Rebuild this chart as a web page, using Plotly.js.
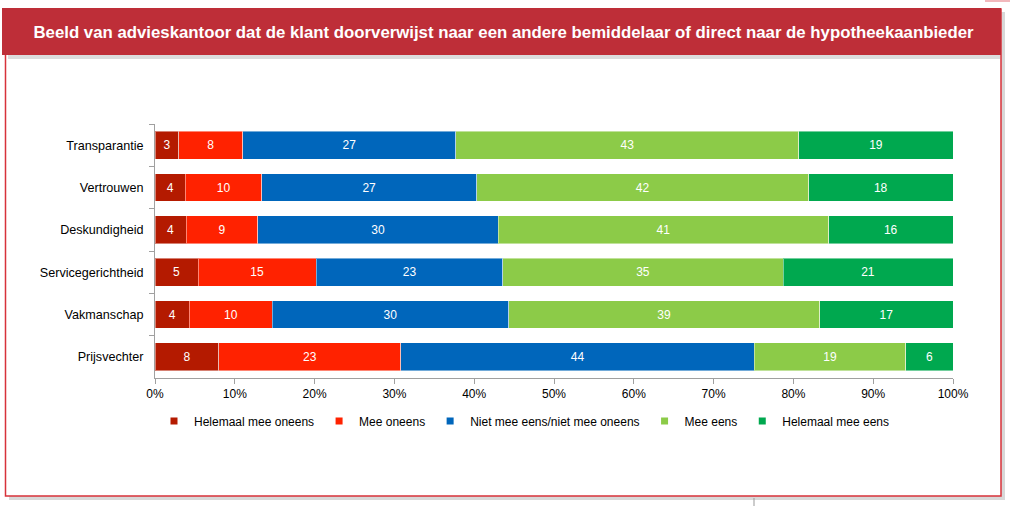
<!DOCTYPE html>
<html>
<head>
<meta charset="utf-8">
<script src="https://cdn.plot.ly/plotly-3.0.1.min.js"></script>
<style>
html,body{margin:0;padding:0;background:#fff;}
#chart{width:1010px;height:506px;}
</style>
</head>
<body>
<div id="chart"></div>
<script>
// Categories (top to bottom)
var categories = ['Transparantie', 'Vertrouwen', 'Deskundigheid', 'Servicegerichtheid', 'Vakmanschap', 'Prijsvechter'];
// Series (percent shares)
var seriesNames = ['Helemaal mee oneens', 'Mee oneens', 'Niet mee eens/niet mee oneens', 'Mee eens', 'Helemaal mee eens'];
var helemaalMeeOneens = [3.0, 3.8, 3.9, 5.4, 4.3, 8.0];
var meeOneens         = [8.0, 9.6, 9.0, 14.8, 10.4, 22.8];
var neutraal          = [26.7, 26.9, 30.1, 23.4, 29.6, 44.3];
var meeEens           = [43.0, 41.6, 41.4, 35.1, 39.0, 19.0];
var helemaalMeeEens   = [19.3, 18.1, 15.6, 21.3, 16.7, 5.9];
var xTickVals = [0, 10, 20, 30, 40, 50, 60, 70, 80, 90, 100];
var xTickText = ['0%', '10%', '20%', '30%', '40%', '50%', '60%', '70%', '80%', '90%', '100%'];
var titleText = 'Beeld van advieskantoor dat de klant doorverwijst naar een andere bemiddelaar of direct naar de hypotheekaanbieder';

var colors = ['#B41A00', '#FF2200', '#0066BB', '#8CCB48', '#00A84F'];
var seriesValues = [helemaalMeeOneens, meeOneens, neutraal, meeEens, helemaalMeeEens];

var W = 1010, H = 506;
var L = 155, R = 953, T = 124, B = 378;
function px(x){ return (x - L) / (R - L); }
function py(y){ return (B - y) / (B - T); }

var traces = [];
seriesValues.forEach(function(vals, i){
  traces.push({
    type: 'bar',
    orientation: 'h',
    y: categories,
    x: vals,
    name: seriesNames[i],
    showlegend: false,
    marker: {color: colors[i], line: {color: 'rgba(255,255,255,0.45)', width: 1}},
    texttemplate: '%{x:.0f}',
    textposition: 'inside',
    insidetextanchor: 'middle',
    textangle: 0,
    constraintext: 'none',
    textfont: {color: '#ffffff', size: 12, family: 'Liberation Sans, Arial, sans-serif'},
    hoverinfo: 'skip'
  });
});
// legend entries with small square keys
seriesNames.forEach(function(n, i){
  traces.push({
    type: 'scatter',
    mode: 'markers',
    x: [null], y: [null],
    name: n,
    marker: {symbol: 'square', size: 7, color: colors[i]},
    showlegend: true,
    hoverinfo: 'skip'
  });
});

var shapes = [
  // outer box shadow
  {type:'rect', xref:'paper', yref:'paper', x0:px(9), x1:px(1005), y0:py(12), y1:py(500), fillcolor:'#d8d8d8', line:{width:0}, layer:'below'},
  // outer box
  {type:'rect', xref:'paper', yref:'paper', x0:px(5.5), x1:px(1001), y0:py(9), y1:py(496), fillcolor:'#ffffff', line:{color:'#D7323A', width:1.5}, layer:'below'},
  // title bar shadow
  {type:'rect', xref:'paper', yref:'paper', x0:px(8), x1:px(1000), y0:py(54), y1:py(59), fillcolor:'#dcdcdc', line:{width:0}, layer:'below'},
  // title bar
  {type:'rect', xref:'paper', yref:'paper', x0:px(2), x1:px(1001), y0:py(8), y1:py(55), fillcolor:'#BE2E38', line:{width:0}, layer:'below'},
  // small artefacts
  {type:'line', xref:'paper', yref:'paper', x0:px(754), x1:px(754), y0:py(498), y1:py(506), line:{color:'#999999', width:1}},
  {type:'line', xref:'paper', yref:'paper', x0:px(985), x1:px(1010), y0:py(1), y1:py(1), line:{color:'#f2b8bc', width:2}}
];

var layout = {
  width: W, height: H,
  margin: {l: L, r: W - R, t: T, b: H - B, pad: 0},
  paper_bgcolor: 'rgba(0,0,0,0)',
  plot_bgcolor: 'rgba(0,0,0,0)',
  barmode: 'stack',
  bargap: 0.34,
  font: {family: 'Liberation Sans, Arial, sans-serif', size: 12, color: '#000000'},
  title: {
    text: titleText,
    font: {family: 'Liberation Sans, Arial, sans-serif', size: 16.8, color: '#ffffff', weight: 'bold'},
    x: px(503.5), xref: 'paper', xanchor: 'center',
    y: 1 - 32.5 / H, yref: 'container', yanchor: 'middle'
  },
  xaxis: {
    range: [0, 100],
    tickvals: xTickVals,
    ticktext: xTickText,
    showgrid: false,
    zeroline: false,
    showline: true,
    linecolor: '#a0a0a0',
    linewidth: 1,
    ticks: 'outside',
    ticklen: 5,
    tickcolor: '#a0a0a0',
    tickfont: {size: 12, color: '#000000'},
    fixedrange: true
  },
  yaxis: {
    type: 'category',
    categoryorder: 'array',
    categoryarray: categories,
    autorange: 'reversed',
    showgrid: false,
    zeroline: false,
    showline: true,
    linecolor: '#a0a0a0',
    linewidth: 1,
    ticks: 'outside',
    tickson: 'boundaries',
    ticklen: 5,
    tickcolor: '#a0a0a0',
    ticklabelstandoff: 8,
    tickfont: {size: 12.6, color: '#000000'},
    fixedrange: true
  },
  legend: {
    orientation: 'h',
    traceorder: 'normal',
    x: px(524), xanchor: 'center',
    y: py(421), yanchor: 'middle',
    font: {size: 12, color: '#000000'},
    itemwidth: 30,
    tracegroupgap: 0,
    bgcolor: 'rgba(0,0,0,0)'
  },
  shapes: shapes,
  showlegend: true
};

Plotly.newPlot('chart', traces, layout, {displayModeBar: false, staticPlot: true});
</script>
</body>
</html>
